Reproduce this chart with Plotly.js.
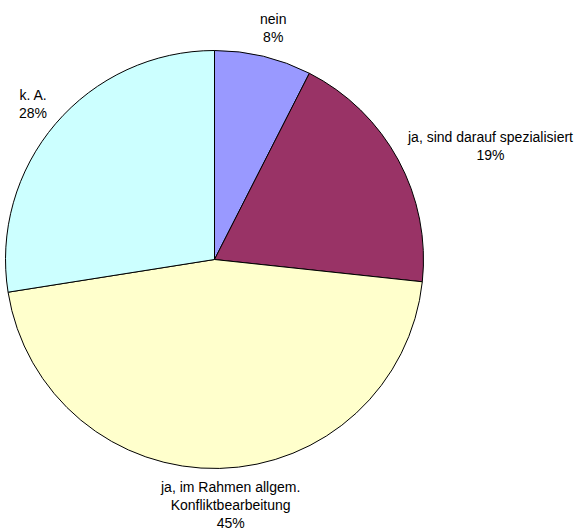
<!DOCTYPE html>
<html>
<head>
<meta charset="utf-8">
<script src="https://cdn.plot.ly/plotly-3.0.1.min.js"></script>
<style>html,body{margin:0;padding:0;background:#fff;}#chart{width:583px;height:531px;}</style>
</head>
<body>
<div id="chart"></div>
<script>
const categories = ["nein", "ja, sind darauf spezialisiert", "ja, im Rahmen allgem.<br>Konfliktbearbeitung", "k. A."];
const values = [7.5, 19.2, 45.8, 27.5];
const percentLabels = ["8%", "19%", "45%", "28%"];
const colors = ["#9999FF", "#993366", "#FFFFCC", "#CCFFFF"];

const W = 583, H = 531;
// label placement (pixel centres) -- layout only
const labelPos = [
  [273, 28],
  [490, 146],
  [230, 505],
  [33, 104]
];

const trace = {
  type: "pie",
  labels: categories,
  values: values,
  sort: false,
  direction: "clockwise",
  rotation: 0,
  textinfo: "none",
  hoverinfo: "label+percent",
  marker: { colors: colors, line: { color: "#000000", width: 1 } },
  domain: { x: [5.5 / W, 423.5 / W], y: [1 - 468.5 / H, 1 - 50.5 / H] },
  showlegend: false
};

const annotations = categories.map((c, i) => ({
  xref: "paper", yref: "paper",
  x: labelPos[i][0] / W,
  y: 1 - labelPos[i][1] / H,
  xanchor: "center", yanchor: "middle",
  align: "center",
  text: c + "<br>" + percentLabels[i],
  showarrow: false,
  font: { family: "Liberation Sans, Arial, sans-serif", size: 14, color: "#000000" }
}));

const layout = {
  width: W, height: H,
  margin: { l: 0, r: 0, t: 0, b: 0 },
  paper_bgcolor: "#ffffff",
  plot_bgcolor: "#ffffff",
  showlegend: false,
  annotations: annotations
};

Plotly.newPlot("chart", [trace], layout, { displayModeBar: false, staticPlot: true });
</script>
</body>
</html>
